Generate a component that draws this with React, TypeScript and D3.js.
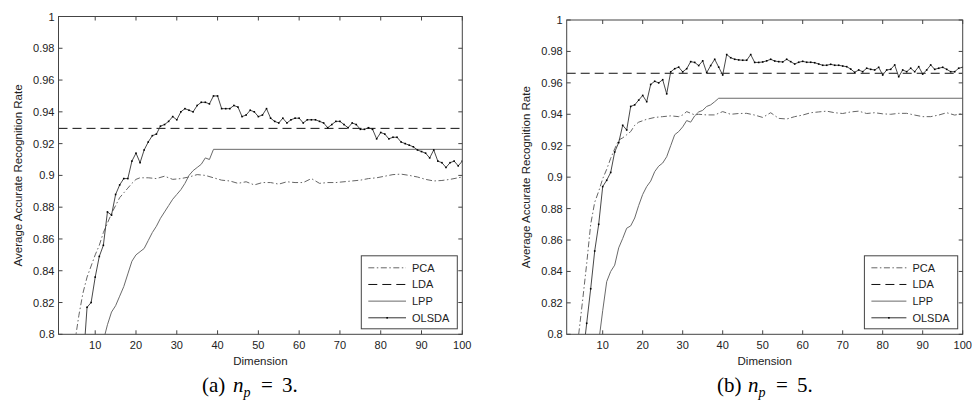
import React from "react";
import * as d3 from "d3";

// ---------- Data ----------
const xTickValues = [10, 20, 30, 40, 50, 60, 70, 80, 90, 100];
const yTickValues = [0.8, 0.82, 0.84, 0.86, 0.88, 0.9, 0.92, 0.94, 0.96, 0.98, 1];
const yTickLabels = ["0.8", "0.82", "0.84", "0.86", "0.88", "0.9", "0.92", "0.94", "0.96", "0.98", "1"];
const seriesNames = ["PCA", "LDA", "LPP", "OLSDA"];

// Panel (a) n_p = 3
const ldaA = 0.9296;
const lppADims = [12, 13, 14, 15, 16, 17, 18, 19, 20, 21, 22, 23, 24, 25, 26, 27, 28, 29, 30, 31, 32, 33, 34, 35, 36, 37, 38, 39, 100];
const lppAVals = [0.796, 0.806, 0.814, 0.818, 0.824, 0.830, 0.838, 0.846, 0.850, 0.852, 0.854, 0.859, 0.864, 0.868, 0.873, 0.877, 0.881, 0.885, 0.888, 0.891, 0.895, 0.900, 0.903, 0.905, 0.907, 0.911, 0.910, 0.9164, 0.9164];
const pcaADims = [5, 6, 7, 8, 9, 10, 11, 12, 13, 14, 15, 16, 17, 18, 19, 20, 21, 23, 25, 27, 29, 31, 33, 35, 37, 39, 41, 43, 45, 47, 49, 51, 53, 55, 57, 59, 61, 63, 65, 67, 69, 71, 73, 75, 77, 79, 81, 83, 85, 87, 89, 91, 93, 95, 97, 100];
const pcaAVals = [0.795, 0.812, 0.826, 0.836, 0.843, 0.850, 0.856, 0.864, 0.870, 0.876, 0.881, 0.886, 0.889, 0.892, 0.895, 0.8975, 0.8985, 0.8985, 0.898, 0.8995, 0.8975, 0.898, 0.899, 0.9005, 0.900, 0.8985, 0.897, 0.8965, 0.895, 0.896, 0.894, 0.8955, 0.8955, 0.8945, 0.896, 0.8955, 0.8955, 0.898, 0.895, 0.8955, 0.8955, 0.896, 0.8965, 0.897, 0.898, 0.8985, 0.8995, 0.9005, 0.9008, 0.900, 0.899, 0.8975, 0.8965, 0.8968, 0.8975, 0.899];
const olsdaAStart = 7;
const olsdaAVals = [
  0.780, 0.817, 0.820, 0.836, 0.849, 0.856, 0.877, 0.875, 0.888, 0.894,
  0.898, 0.898, 0.909, 0.914, 0.908, 0.916, 0.921, 0.925, 0.926, 0.931,
  0.932, 0.934, 0.937, 0.935, 0.940, 0.942, 0.941, 0.940, 0.944, 0.946,
  0.946, 0.945, 0.950, 0.950, 0.942, 0.942, 0.942, 0.944, 0.943, 0.937,
  0.938, 0.941, 0.940, 0.937, 0.938, 0.942, 0.936, 0.934, 0.933, 0.936,
  0.933, 0.935, 0.936, 0.936, 0.933, 0.935, 0.935, 0.935, 0.934, 0.933,
  0.930, 0.932, 0.934, 0.934, 0.932, 0.930, 0.933, 0.932, 0.929, 0.929,
  0.930, 0.929, 0.923, 0.927, 0.926, 0.923, 0.924, 0.924, 0.921, 0.920,
  0.919, 0.918, 0.916, 0.915, 0.914, 0.911, 0.916, 0.909, 0.908, 0.905,
  0.908, 0.909, 0.906, 0.909
];

// Panel (b) n_p = 5
const ldaB = 0.9661;
const lppBDims = [9, 10, 11, 12, 13, 14, 15, 16, 17, 18, 19, 20, 21, 22, 23, 24, 25, 26, 27, 28, 29, 30, 31, 32, 33, 34, 35, 36, 37, 38, 39, 100];
const lppBVals = [0.795, 0.815, 0.8335, 0.840, 0.844, 0.855, 0.861, 0.8675, 0.869, 0.874, 0.882, 0.889, 0.894, 0.8975, 0.9035, 0.907, 0.909, 0.913, 0.920, 0.927, 0.929, 0.932, 0.936, 0.935, 0.939, 0.9415, 0.9425, 0.945, 0.946, 0.948, 0.9502, 0.9502];
const pcaBDims = [4, 5, 6, 7, 8, 9, 10, 11, 12, 13, 14, 15, 16, 17, 18, 19, 21, 23, 25, 27, 29, 30, 31, 33, 34, 36, 38, 40, 42, 44, 46, 48, 50, 52, 54, 56, 58, 60, 62, 64, 66, 68, 70, 72, 74, 76, 78, 80, 82, 84, 86, 88, 90, 92, 94, 96, 98, 100];
const pcaBVals = [0.800, 0.822, 0.845, 0.870, 0.884, 0.891, 0.899, 0.905, 0.912, 0.918, 0.9236, 0.925, 0.927, 0.929, 0.933, 0.935, 0.9368, 0.938, 0.9385, 0.939, 0.9385, 0.9396, 0.9417, 0.9396, 0.940, 0.9396, 0.9396, 0.9417, 0.940, 0.9405, 0.9406, 0.9395, 0.938, 0.941, 0.9374, 0.937, 0.9385, 0.9395, 0.941, 0.9415, 0.942, 0.941, 0.9405, 0.9415, 0.942, 0.9405, 0.941, 0.9403, 0.940, 0.9406, 0.9406, 0.9395, 0.9385, 0.9385, 0.9395, 0.941, 0.9395, 0.9405];
const olsdaBStart = 5;
const olsdaBVals = [
  0.785, 0.807, 0.829, 0.853, 0.870, 0.894, 0.898, 0.903, 0.916, 0.922,
  0.933, 0.930, 0.945, 0.946, 0.949, 0.952, 0.948, 0.959, 0.961, 0.960,
  0.962, 0.953, 0.967, 0.969, 0.970, 0.967, 0.969, 0.9735, 0.973, 0.971,
  0.974, 0.9665, 0.971, 0.975, 0.970, 0.965, 0.978, 0.976, 0.975, 0.9746,
  0.9744, 0.9744, 0.978, 0.973, 0.973, 0.9733, 0.974, 0.975, 0.9739, 0.9735,
  0.9733, 0.975, 0.9735, 0.972, 0.9731, 0.9737, 0.9731, 0.9731, 0.9728, 0.972,
  0.9712, 0.9712, 0.9718, 0.9712, 0.9712, 0.9707, 0.9703, 0.9688, 0.9667, 0.9682,
  0.9671, 0.9693, 0.9686, 0.9682, 0.9699, 0.965, 0.9682, 0.9686, 0.9714, 0.9639,
  0.9682, 0.9671, 0.9693, 0.9671, 0.9703, 0.9656, 0.9682, 0.9714, 0.9686, 0.9693,
  0.9699, 0.9686, 0.9671, 0.9671, 0.9693, 0.9699
];

// ---------- Styles ----------
const AXIS = "#444";
const TXT = "#222";
const FONT = "Arial, 'Liberation Sans', Helvetica, sans-serif";
const STYLE: Record<string, { stroke: string; dash?: string; width: number }> = {
  PCA: { stroke: "#666", dash: "6,2.5,1.5,2.5", width: 1 },
  LDA: { stroke: "#111", dash: "9,5", width: 1 },
  LPP: { stroke: "#6a6a6a", width: 1 },
  OLSDA: { stroke: "#333", width: 0.9 },
};

type Layout = { left: number; right: number; top: number; bottom: number; legW: number; legLine: number };

type PanelProps = {
  id: string;
  L: Layout;
  lda: number;
  lppDims: number[];
  lppVals: number[];
  pcaDims: number[];
  pcaVals: number[];
  olsdaStart: number;
  olsdaVals: number[];
};

function Panel({ id, L, lda, lppDims, lppVals, pcaDims, pcaVals, olsdaStart, olsdaVals }: PanelProps) {
  const x = d3.scaleLinear().domain([1, 100]).range([L.left, L.right]);
  const y = d3.scaleLinear().domain([0.8, 1]).range([L.bottom, L.top]);
  const line = d3
    .line<[number, number]>()
    .x((d) => x(d[0]))
    .y((d) => y(d[1]));

  const lpp: [number, number][] = lppDims.map((d, i) => [d, lppVals[i]]);
  const pca: [number, number][] = pcaDims.map((d, i) => [d, pcaVals[i]]);
  const olsda: [number, number][] = olsdaVals.map((v, i) => [olsdaStart + i, v]);
  const ldaLine: [number, number][] = [
    [1, lda],
    [100, lda],
  ];

  const tick = 4;
  const clipId = `clip-${id}`;
  const cx = (L.left + L.right) / 2;
  const cy = (L.top + L.bottom) / 2;

  // legend
  const legRight = L.right - 5;
  const legBottom = L.bottom - 5.5;
  const legH = 73;
  const legLeft = legRight - L.legW;
  const legTop = legBottom - legH;
  const lx1 = legLeft + 7;
  const lx2 = lx1 + L.legLine;

  return (
    <g>
      <defs>
        <clipPath id={clipId}>
          <rect x={L.left} y={L.top} width={L.right - L.left} height={L.bottom - L.top} />
        </clipPath>
      </defs>
      <g clipPath={`url(#${clipId})`} fill="none">
        <path d={line(pca) || ""} stroke={STYLE.PCA.stroke} strokeWidth={STYLE.PCA.width} strokeDasharray={STYLE.PCA.dash} />
        <path d={line(ldaLine) || ""} stroke={STYLE.LDA.stroke} strokeWidth={STYLE.LDA.width} strokeDasharray={STYLE.LDA.dash} />
        <path d={line(lpp) || ""} stroke={STYLE.LPP.stroke} strokeWidth={STYLE.LPP.width} />
        <path d={line(olsda) || ""} stroke={STYLE.OLSDA.stroke} strokeWidth={STYLE.OLSDA.width} />
        {olsda.map((d, i) => (
          <rect key={i} x={x(d[0]) - 0.8} y={y(d[1]) - 0.8} width={1.6} height={1.6} fill="#000" stroke="none" />
        ))}
      </g>
      {/* box */}
      <rect
        x={L.left}
        y={L.top}
        width={L.right - L.left}
        height={L.bottom - L.top}
        fill="none"
        stroke={AXIS}
        strokeWidth={1}
      />
      {/* x ticks */}
      {xTickValues.map((v) => (
        <g key={`x${v}`}>
          <line x1={x(v)} x2={x(v)} y1={L.bottom} y2={L.bottom - tick} stroke={AXIS} />
          <line x1={x(v)} x2={x(v)} y1={L.top} y2={L.top + tick} stroke={AXIS} />
          <text x={x(v)} y={L.bottom + 15} textAnchor="middle" fontSize={11} fill={TXT} fontFamily={FONT}>
            {String(v)}
          </text>
        </g>
      ))}
      {/* y ticks */}
      {yTickValues.map((v, i) => (
        <g key={`y${v}`}>
          <line x1={L.left} x2={L.left + tick} y1={y(v)} y2={y(v)} stroke={AXIS} />
          <line x1={L.right} x2={L.right - tick} y1={y(v)} y2={y(v)} stroke={AXIS} />
          <text x={L.left - 4} y={y(v) + 4} textAnchor="end" fontSize={11} fill={TXT} fontFamily={FONT}>
            {yTickLabels[i]}
          </text>
        </g>
      ))}
      {/* axis labels */}
      <text x={cx} y={L.bottom + 31} textAnchor="middle" fontSize={11.5} fill={TXT} fontFamily={FONT}>
        Dimension
      </text>
      <text
        transform={`translate(${L.left - 37},${cy}) rotate(-90)`}
        textAnchor="middle"
        fontSize={11.5}
        fill={TXT}
        fontFamily={FONT}
      >
        Average Accurate Recognition Rate
      </text>
      {/* legend */}
      <rect x={legLeft} y={legTop} width={L.legW} height={legH} fill="#fff" stroke={AXIS} strokeWidth={1} />
      {seriesNames.map((name, i) => {
        const yy = legTop + 12 + i * 16.67;
        const st = STYLE[name];
        return (
          <g key={name}>
            <line x1={lx1} x2={lx2} y1={yy} y2={yy} stroke={st.stroke} strokeDasharray={st.dash} strokeWidth={1} />
            {name === "OLSDA" && <rect x={(lx1 + lx2) / 2 - 0.8} y={yy - 0.8} width={1.6} height={1.6} fill="#000" />}
            <text x={lx2 + 6} y={yy + 4} fontSize={11} fill={TXT} fontFamily={FONT}>
              {name}
            </text>
          </g>
        );
      })}
    </g>
  );
}

function Caption({ x0, letter, n }: { x0: number; letter: string; n: string }) {
  const serif = "'Liberation Serif', 'Times New Roman', serif";
  const base = 392;
  return (
    <g fill="#000" fontFamily={serif}>
      <text x={x0} y={base} fontSize={21}>{`(${letter})`}</text>
      <text x={x0 + 31} y={base} fontSize={21} fontStyle="italic">n</text>
      <text x={x0 + 41.5} y={base + 5} fontSize={14} fontStyle="italic">p</text>
      <text x={x0 + 59} y={base} fontSize={21}>=</text>
      <text x={x0 + 80} y={base} fontSize={21}>{`${n}.`}</text>
    </g>
  );
}

const layoutA: Layout = { left: 58.5, right: 462.3, top: 16.5, bottom: 334.3, legW: 96, legLine: 37.7 };
const layoutB: Layout = { left: 566.7, right: 962.7, top: 20, bottom: 334.3, legW: 93.3, legLine: 35 };

export default function App() {
  return (
    <svg
      width={972}
      height={400}
      viewBox="0 0 972 400"
      style={{ position: "absolute", left: 0, top: 0, background: "#fff" }}
    >
      <rect x={0} y={0} width={972} height={400} fill="#fff" />
      <Panel
        id="a"
        L={layoutA}
        lda={ldaA}
        lppDims={lppADims}
        lppVals={lppAVals}
        pcaDims={pcaADims}
        pcaVals={pcaAVals}
        olsdaStart={olsdaAStart}
        olsdaVals={olsdaAVals}
      />
      <Panel
        id="b"
        L={layoutB}
        lda={ldaB}
        lppDims={lppBDims}
        lppVals={lppBVals}
        pcaDims={pcaBDims}
        pcaVals={pcaBVals}
        olsdaStart={olsdaBStart}
        olsdaVals={olsdaBVals}
      />
      <Caption x0={202} letter="a" n="3" />
      <Caption x0={717} letter="b" n="5" />
    </svg>
  );
}
